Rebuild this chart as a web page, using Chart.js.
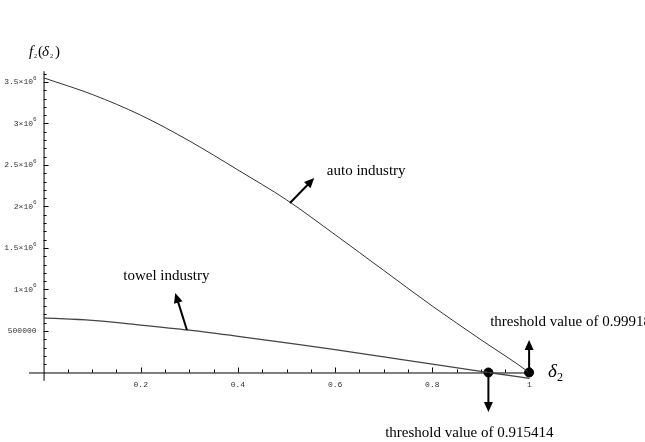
<!DOCTYPE html>
<html>
<head>
<meta charset="utf-8">
<script src="https://cdn.jsdelivr.net/npm/chart.js@4/dist/chart.umd.min.js"></script>
<style>
  html, body { margin: 0; padding: 0; background: #fff; }
  #wrap { width: 645px; height: 442px; position: relative; }
</style>
</head>
<body>
<div id="wrap"><canvas id="c" width="645" height="442"></canvas></div>
<script>
/* f2(delta2) curves. */
var autoX = [0, 0.1, 0.2, 0.3, 0.4, 0.5, 0.6, 0.7, 0.8, 0.9, 0.99918, 1];
var autoY = [3550000, 3350000, 3100000, 2790000, 2440000, 2080000, 1660000, 1230000, 800000, 395000, 0, -4000];
var towelX = [0, 0.1, 0.2, 0.3, 0.4, 0.5, 0.6, 0.7, 0.8, 0.9, 0.915414, 1];
var towelY = [657000, 628000, 572000, 510000, 436000, 356000, 275000, 188000, 102000, 14000, 0, -70000];
var thresholdX = [0.915414, 0.99918];

var xTickValues = [0.2, 0.4, 0.6, 0.8, 1];
var xTickLabels = ['0.2', '0.4', '0.6', '0.8', '1'];
var yTickValues = [500000, 1000000, 1500000, 2000000, 2500000, 3000000, 3500000];
var yTickMantissa = ['500000', '1×10', '1.5×10', '2×10', '2.5×10', '3×10', '3.5×10'];
var yTickExponent = ['', '6', '6', '6', '6', '6', '6'];

/* Annotations, in data units: [x0, y0, x1, y1] arrows and [x, y, text] labels. */
var arrows = [
  [0.507, 2042000, 0.557, 2343000],   // auto industry
  [0.295, 512000, 0.271, 958000],     // towel industry
  [0.99918, 0, 0.99918, 392000],      // up from 0.99918
  [0.915414, 0, 0.915414, -476000]    // down from 0.915414
];
var notes = [
  [0.583, 2428000, 'auto industry'],
  [0.164, 1163000, 'towel industry'],
  [0.919, 608000, 'threshold value of 0.99918'],
  [0.703, -729000, 'threshold value of 0.915414']
];

function pts(xs, ys) { return xs.map(function (x, i) { return { x: x, y: ys[i] }; }); }

function drawArrow(ctx, x0, y0, x1, y1) {
  var a = Math.atan2(y1 - y0, x1 - x0), len = 10, w = 4.5;
  ctx.beginPath();
  ctx.moveTo(x0, y0);
  ctx.lineTo(x1 - Math.cos(a) * len * 0.8, y1 - Math.sin(a) * len * 0.8);
  ctx.stroke();
  ctx.beginPath();
  ctx.moveTo(x1, y1);
  ctx.lineTo(x1 - Math.cos(a) * len - Math.sin(a) * w, y1 - Math.sin(a) * len + Math.cos(a) * w);
  ctx.lineTo(x1 - Math.cos(a) * len + Math.sin(a) * w, y1 - Math.sin(a) * len - Math.cos(a) * w);
  ctx.closePath();
  ctx.fill();
}

/* Mathematica-style axes crossing at the origin, ticks pointing inward. */
var mathAxes = {
  id: 'mathAxes',
  beforeDatasetsDraw: function (chart) {
    var ctx = chart.ctx, xs = chart.scales.x, ys = chart.scales.y, a = chart.chartArea;
    var x0 = xs.getPixelForValue(0), y0 = ys.getPixelForValue(0);
    ctx.save();
    ctx.strokeStyle = '#000';
    ctx.lineWidth = 1;
    ctx.beginPath();
    ctx.moveTo(a.left, y0 + 0.5); ctx.lineTo(a.right, y0 + 0.5);
    ctx.moveTo(x0 + 0.5, a.top); ctx.lineTo(x0 + 0.5, a.bottom);
    ctx.stroke();

    ctx.beginPath();
    for (var i = 1; i <= 20; i++) {
      var px = Math.round(xs.getPixelForValue(i * 0.05)) + 0.5;
      var tl = (i % 4 === 0) ? 5 : 3;
      ctx.moveTo(px, y0); ctx.lineTo(px, y0 - tl);
    }
    for (var j = 1; j <= 36; j++) {
      var py = Math.round(ys.getPixelForValue(j * 100000)) + 0.5;
      var tl2 = (j % 5 === 0) ? 5 : 3;
      ctx.moveTo(x0, py); ctx.lineTo(x0 + tl2, py);
    }
    ctx.stroke();

    ctx.fillStyle = '#333';
    ctx.font = '8px "Liberation Mono"';
    ctx.textAlign = 'center';
    ctx.textBaseline = 'middle';
    xTickValues.forEach(function (v, k) {
      ctx.fillText(xTickLabels[k], xs.getPixelForValue(v), y0 + 12);
    });
    yTickValues.forEach(function (v, k) {
      var py = ys.getPixelForValue(v), right = x0 - 7;
      ctx.font = '6px "Liberation Mono"';
      var ew = yTickExponent[k] ? ctx.measureText(yTickExponent[k]).width : 0;
      ctx.textAlign = 'left';
      if (ew) ctx.fillText(yTickExponent[k], right - ew, py - 4);
      ctx.font = '8px "Liberation Mono"';
      ctx.textAlign = 'right';
      ctx.fillText(yTickMantissa[k], right - ew, py);
    });
    ctx.restore();
  },
  afterDraw: function (chart) {
    var ctx = chart.ctx, xs = chart.scales.x, ys = chart.scales.y;
    ctx.save();
    ctx.strokeStyle = '#000';
    ctx.fillStyle = '#000';
    ctx.lineWidth = 2;
    arrows.forEach(function (r) {
      drawArrow(ctx, xs.getPixelForValue(r[0]), ys.getPixelForValue(r[1]),
                xs.getPixelForValue(r[2]), ys.getPixelForValue(r[3]));
    });
    ctx.font = '15px "Liberation Serif"';
    ctx.textAlign = 'left';
    ctx.textBaseline = 'middle';
    notes.forEach(function (n) {
      ctx.fillText(n[2], xs.getPixelForValue(n[0]), ys.getPixelForValue(n[1]));
    });

    // axis names
    ctx.textBaseline = 'alphabetic';
    ctx.font = 'italic 19px "Liberation Serif"';
    ctx.fillText('δ', 548, 377);
    ctx.font = '12px "Liberation Serif"';
    ctx.fillText('2', 557, 381);

    ctx.font = 'italic 15px "Liberation Serif"';
    ctx.fillText('f', 29, 56);
    ctx.font = '6px "Liberation Serif"';
    ctx.fillText('2', 34, 58);
    ctx.font = '15px "Liberation Serif"';
    ctx.fillText('(', 38, 56);
    ctx.font = 'italic 15px "Liberation Serif"';
    ctx.fillText('δ', 42, 56);
    ctx.font = '6px "Liberation Serif"';
    ctx.fillText('2', 50, 58);
    ctx.font = '15px "Liberation Serif"';
    ctx.fillText(')', 55, 56);
    ctx.restore();
  }
};

new Chart(document.getElementById('c'), {
  type: 'scatter',
  data: {
    datasets: [
      { data: pts(autoX, autoY), showLine: true, borderColor: '#333', borderWidth: 1,
        pointRadius: 0, cubicInterpolationMode: 'monotone', clip: false },
      { data: pts(towelX, towelY), showLine: true, borderColor: '#444', borderWidth: 1.3,
        pointRadius: 0, cubicInterpolationMode: 'monotone', clip: false },
      { data: thresholdX.map(function (x) { return { x: x, y: 0 }; }), showLine: false,
        pointRadius: 4.5, backgroundColor: '#000', borderColor: '#000', clip: false }
    ]
  },
  options: {
    responsive: false,
    animation: false,
    devicePixelRatio: 1,
    layout: { padding: { left: 29, right: 115.5, top: 71.2, bottom: 61.2 } },
    plugins: { legend: { display: false }, tooltip: { enabled: false } },
    scales: {
      x: { type: 'linear', min: -0.03, max: 1, display: false },
      y: { type: 'linear', min: -100000, max: 3630000, display: false }
    }
  },
  plugins: [mathAxes]
});
</script>
</body>
</html>
